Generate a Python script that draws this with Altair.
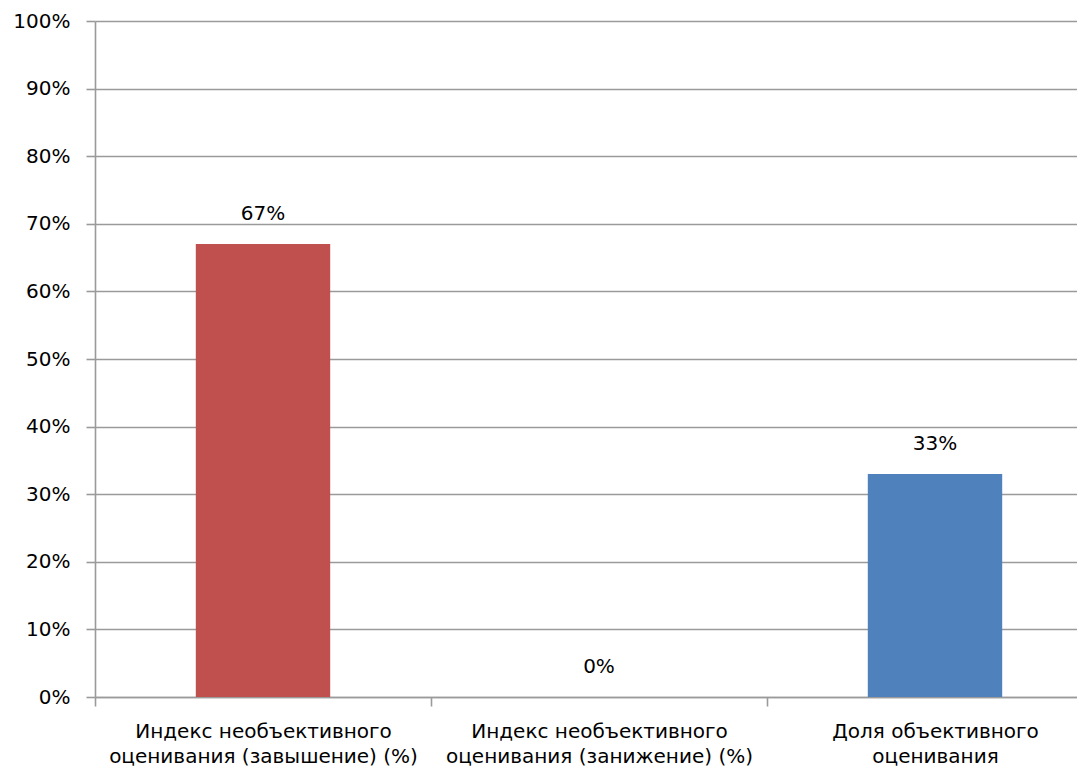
import altair as alt
import pandas as pd

categories = [
    "Индекс необъективного\nоценивания (завышение) (%)",
    "Индекс необъективного\nоценивания (занижение) (%)",
    "Доля объективного\nоценивания",
]
values = [0.67, 0.0, 0.33]
bar_colors = ["#C0504D", "#C0504D", "#4F81BD"]
y_ticks = [0.0, 0.1, 0.2, 0.3, 0.4, 0.5, 0.6, 0.7, 0.8, 0.9, 1.0]

df = pd.DataFrame({"category": categories, "value": values})

GRAY = "#9a9a9a"
FONT = "DejaVu Sans"
STEP = 336

x_enc = alt.X(
    "category:N",
    sort=categories,
    scale=alt.Scale(range=[0, 3 * STEP], paddingInner=0.6, paddingOuter=0.3),
    axis=alt.Axis(
        title=None,
        labelAngle=0,
        labelExpr="split(datum.label, '\\n')",
        tickOffset=-STEP / 2,
        labelOffset=STEP / 2,
        tickSize=9,
        tickColor=GRAY,
        tickWidth=1.6,
        domainColor=GRAY,
        domainWidth=1.6,
        labelFontSize=20,
        labelColor="#000000",
        labelFont=FONT,
        labelPadding=15,
        labelLineHeight=25,
        labelBaseline="top",
        labelLimit=0,
        grid=False,
    ),
)

y_enc = alt.Y(
    "value:Q",
    scale=alt.Scale(domain=[0, 1], nice=False),
    axis=alt.Axis(
        title=None,
        values=y_ticks,
        format=".0%",
        tickSize=9,
        tickColor=GRAY,
        tickWidth=1.6,
        domainColor=GRAY,
        domainWidth=1.6,
        gridColor=GRAY,
        gridWidth=1.6,
        gridOpacity=1,
        labelFontSize=20,
        labelColor="#000000",
        labelFont=FONT,
        labelPadding=16,
    ),
)

base = alt.Chart(df).encode(x=x_enc, y=y_enc)

bars = base.mark_bar().encode(
    color=alt.Color(
        "category:N",
        scale=alt.Scale(domain=categories, range=bar_colors),
        legend=None,
    )
)

labels = base.mark_text(
    dy=-30, fontSize=20, font=FONT, color="#000000", baseline="middle"
).encode(text=alt.Text("value:Q", format=".0%"))

chart = (
    alt.layer(bars, labels)
    .properties(
        width=982,
        height=676,
        autosize=alt.AutoSizeParams(type="none"),
        padding={"left": 87, "top": 13, "right": 0, "bottom": 71},
        background="#ffffff",
    )
    .configure_view(strokeWidth=0)
)

chart.save("out.html", embed_options={"renderer": "svg", "actions": False})
